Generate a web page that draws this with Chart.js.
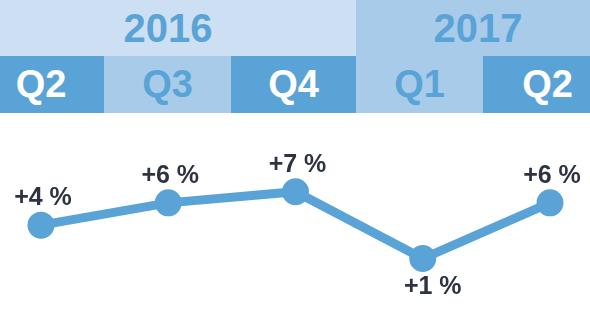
<!DOCTYPE html>
<html>
<head>
<meta charset="utf-8">
<script src="https://cdn.jsdelivr.net/npm/chart.js@4"></script>
<style>
  html, body { margin: 0; padding: 0; background: #fff; }
  body { width: 590px; height: 313px; position: relative; overflow: hidden;
         font-family: "Liberation Sans", Arial, sans-serif; font-weight: bold; }
  .cell { position: absolute; display: flex; align-items: center; justify-content: center; box-sizing: border-box; }
  .year { top: 0; height: 56px; font-size: 40px; color: #5aa3d7; }
  .q { top: 56px; height: 57px; font-size: 38px; }
  .dark { background: #5aa3d7; color: #fff; }
  .mid { background: #a8cbea; color: #5aa3d7; }
  .light { background: #cde0f3; }
  .first { padding-right: 22px; }
  .last { padding-left: 22px; }
  .year.first { padding-right: 20px; }
  .year.last { padding-left: 10px; }
  #wrap { position: absolute; left: 0; top: 113px; width: 590px; height: 200px; }
</style>
</head>
<body>
<div id="head"></div>
<div id="wrap"><canvas id="myChart"></canvas></div>
<script>
var years, yearEdges, quarters, quarterEdges, values, labels;

years = ["2016", "2017"];
yearEdges = [0, 356, 590];
quarters = ["Q2", "Q3", "Q4", "Q1", "Q2"];
quarterEdges = [0, 104, 231, 356, 483, 590];
values = [4, 6, 7, 1, 6];
labels = ["+4 %", "+6 %", "+7 %", "+1 %", "+6 %"];

// header band: years on top, quarters below
(function() {
  var head = document.getElementById('head'), i, d, edge;
  for (i = 0; i < years.length; i++) {
    d = document.createElement('div');
    edge = i === 0 ? ' first' : (i === years.length - 1 ? ' last' : '');
    d.className = 'cell year ' + (i === 0 ? 'light' : 'mid') + edge;
    d.style.left = yearEdges[i] + 'px';
    d.style.width = (yearEdges[i + 1] - yearEdges[i]) + 'px';
    d.textContent = years[i];
    head.appendChild(d);
  }
  for (i = 0; i < quarters.length; i++) {
    d = document.createElement('div');
    edge = i === 0 ? ' first' : (i === quarters.length - 1 ? ' last' : '');
    d.className = 'cell q ' + (i % 2 === 0 ? 'dark' : 'mid') + edge;
    d.style.left = quarterEdges[i] + 'px';
    d.style.width = (quarterEdges[i + 1] - quarterEdges[i]) + 'px';
    d.textContent = quarters[i];
    head.appendChild(d);
  }
})();

var valueLabels = {
  id: 'valueLabels',
  afterDatasetsDraw: function(chart) {
    var ctx = chart.ctx, meta = chart.getDatasetMeta(0), data = chart.data.datasets[0].data;
    ctx.save();
    ctx.font = 'bold 25px "Liberation Sans", Arial, sans-serif';
    ctx.fillStyle = '#2d3340';
    ctx.textAlign = 'center';
    ctx.textBaseline = 'middle';
    meta.data.forEach(function(pt, i) {
      var low = (i > 0 && i < data.length - 1 && data[i] < data[i - 1] && data[i] < data[i + 1]);
      ctx.fillText(labels[i], pt.x + (low ? 10 : 2), pt.y + (low ? 29 : -27));
    });
    ctx.restore();
  }
};

new Chart(document.getElementById('myChart').getContext('2d'), {
  type: 'line',
  data: {
    labels: quarters,
    datasets: [{
      data: values,
      borderColor: '#5aa3d7',
      backgroundColor: '#5aa3d7',
      borderWidth: 9,
      pointRadius: 9,
      pointHoverRadius: 9,
      tension: 0
    }]
  },
  options: {
    responsive: true,
    maintainAspectRatio: false,
    animation: false,
    layout: { padding: { left: 41, right: 40, top: 23, bottom: 21 } },
    plugins: { legend: { display: false }, tooltip: { enabled: false } },
    scales: {
      x: { display: false, offset: false },
      y: { display: false, min: -2, max: 12 }
    }
  },
  plugins: [valueLabels]
});
</script>
</body>
</html>
